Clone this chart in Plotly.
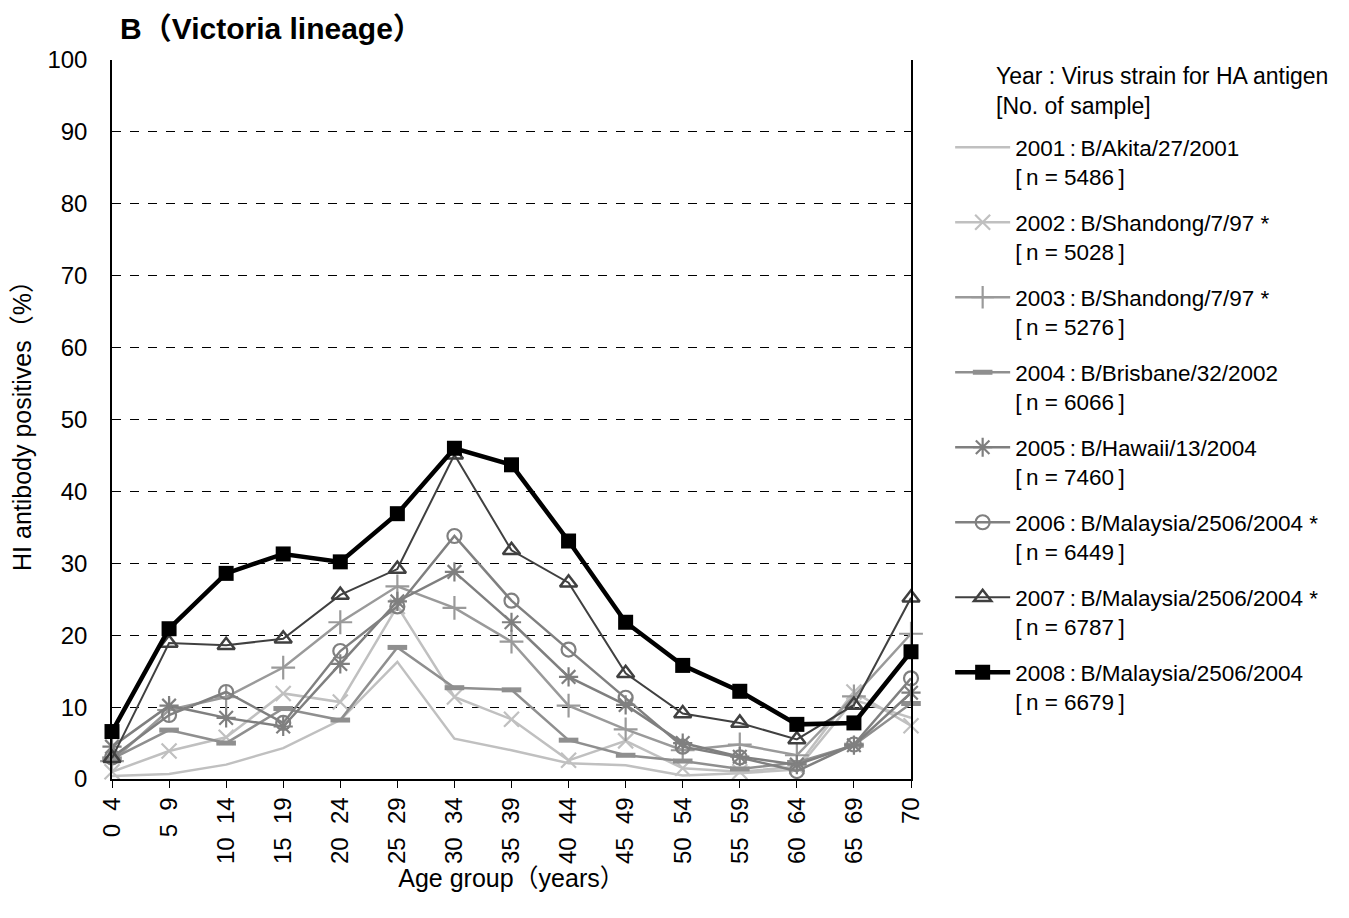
import plotly.graph_objects as go

# ---------------- data ----------------
age_groups = ["0\u00a0\u00a04", "5\u00a0\u00a09", "10\u00a0\u00a014", "15\u00a0\u00a019", "20\u00a0\u00a024",
              "25\u00a0\u00a029", "30\u00a0\u00a034", "35\u00a0\u00a039", "40\u00a0\u00a044", "45\u00a0\u00a049",
              "50\u00a0\u00a054", "55\u00a0\u00a059", "60\u00a0\u00a064", "65\u00a0\u00a069", "70"]

y2001 = [0.4, 0.7, 2.0, 4.3, 8.2, 16.3, 5.6, 4.0, 2.2, 1.9, 0.5, 0.8, 1.3, 11.0, 8.5]
y2002 = [1.0, 3.9, 5.8, 11.9, 10.7, 24.0, 11.4, 8.3, 2.6, 5.3, 1.5, 1.0, 1.7, 12.1, 7.4]
y2003 = [2.5, 9.6, 11.4, 15.5, 21.8, 26.8, 23.8, 19.1, 10.2, 6.9, 4.0, 4.8, 3.3, 11.5, 20.2]
y2004 = [2.8, 6.8, 5.0, 9.8, 8.2, 18.3, 12.7, 12.4, 5.4, 3.3, 2.5, 1.4, 2.3, 4.7, 10.5]
y2005 = [4.5, 10.2, 8.5, 7.3, 16.0, 24.7, 28.8, 21.8, 14.2, 10.3, 5.0, 3.1, 2.0, 4.7, 12.0]
y2006 = [3.0, 8.9, 12.1, 7.8, 17.8, 24.0, 33.8, 24.8, 18.0, 11.3, 4.5, 3.0, 1.1, 4.8, 14.0]
y2007 = [2.9, 18.9, 18.6, 19.5, 25.6, 29.2, 45.1, 31.8, 27.3, 14.7, 9.1, 7.8, 5.5, 10.3, 25.2]
y2008 = [6.6, 20.9, 28.6, 31.3, 30.2, 36.9, 46.0, 43.7, 33.1, 21.8, 15.8, 12.2, 7.6, 7.8, 17.7]

TS = "\u2009"  # thin space
series_names = [
    f"2001{TS}:{TS}B/Akita/27/2001<br>[{TS}n = 5486{TS}]",
    f"2002{TS}:{TS}B/Shandong/7/97 *<br>[{TS}n = 5028{TS}]",
    f"2003{TS}:{TS}B/Shandong/7/97 *<br>[{TS}n = 5276{TS}]",
    f"2004{TS}:{TS}B/Brisbane/32/2002<br>[{TS}n = 6066{TS}]",
    f"2005{TS}:{TS}B/Hawaii/13/2004<br>[{TS}n = 7460{TS}]",
    f"2006{TS}:{TS}B/Malaysia/2506/2004 *<br>[{TS}n = 6449{TS}]",
    f"2007{TS}:{TS}B/Malaysia/2506/2004 *<br>[{TS}n = 6787{TS}]",
    f"2008{TS}:{TS}B/Malaysia/2506/2004<br>[{TS}n = 6679{TS}]",
]
series_values = [y2001, y2002, y2003, y2004, y2005, y2006, y2007, y2008]

# styles: (line color, line width, marker symbol, marker size, marker line width)
styles = [
    ("#c0c0c0", 2.5, None, 0, 0),
    ("#c0c0c0", 2.5, "x-thin-open", 15, 2.2),
    ("#9a9a9a", 2.5, "cross-thin-open", 17, 2.2),
    ("#8f8f8f", 2.5, "line-ew-open", 14, 5),
    ("#7f7f7f", 2.5, "asterisk-open", 16, 2.2),
    ("#808080", 2.5, "circle-open", 14, 2.2),
    ("#404040", 2.0, "triangle-up-open", 15, 2.5),
    ("#000000", 4.5, "square", 15, 0),
]

FONT = "Liberation Sans, Arial, Noto Sans CJK JP, sans-serif"

fig = go.Figure()
for i, (name, vals, st) in enumerate(zip(series_names, series_values, styles)):
    color, lw, sym, msize, mlw = st
    if sym is None:
        mode = "lines"
        marker = None
    else:
        mode = "lines+markers"
        marker = dict(symbol=sym, size=msize, color=color,
                      line=dict(color=color, width=mlw))
    fig.add_trace(go.Scatter(
        x=age_groups, y=vals, name=name, mode=mode,
        line=dict(color=color, width=lw),
        marker=marker, legendgroup=f"g{i}", cliponaxis=False,
    ))

fig.update_layout(
    width=1349, height=918,
    margin=dict(l=104, r=446, t=52, b=147),
    paper_bgcolor="white", plot_bgcolor="white",
    font=dict(family=FONT, size=22, color="black"),
    showlegend=True,
    legend=dict(
        x=1.049, xanchor="left", y=0.908, yanchor="top",
        font=dict(family=FONT, size=22.5, color="black"),
        valign="top", tracegroupgap=13.5, itemwidth=55,
        bgcolor="rgba(0,0,0,0)",
    ),
    xaxis=dict(
        type="category", range=[0, 14],
        showline=True, linecolor="black", linewidth=1.5,
        ticks="outside", ticklen=7, tickcolor="black", tickwidth=1,
        tickangle=-90, showgrid=False, zeroline=False,
        tickfont=dict(family=FONT, size=24, color="black"),
        title=dict(text="Age group（years）", font=dict(family=FONT, size=25), standoff=5),
    ),
    yaxis=dict(
        range=[0, 100], dtick=10, tick0=0,
        showline=True, linecolor="black", linewidth=1.5, mirror=True,
        showgrid=True, gridcolor="black", gridwidth=1, griddash="dash",
        zeroline=False, ticks="", ticklabelstandoff=18,
        tickfont=dict(family=FONT, size=24, color="black"),
        title=dict(text="HI antibody positives（%）", font=dict(family=FONT, size=25), standoff=10),
    ),
    annotations=[
        dict(text="<b>B（Victoria lineage）</b>", xref="paper", yref="paper",
             x=0.008, y=1.044, xanchor="left", yanchor="middle", showarrow=False,
             font=dict(family=FONT, size=30, color="black")),
        dict(text="Year : Virus strain for HA antigen<br>[No. of sample]",
             xref="paper", yref="paper",
             x=1.104, y=0.999, xanchor="left", yanchor="top", showarrow=False, align="left",
             font=dict(family=FONT, size=23, color="black")),
    ],
)

fig.write_html("out.html")
